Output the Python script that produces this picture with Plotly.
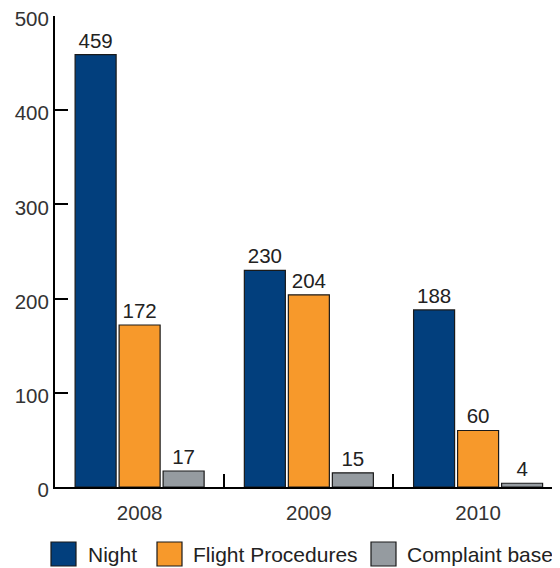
import plotly.graph_objects as go

# ---- data ----
years = ["2008", "2009", "2010"]
night = [459, 230, 188]
flight_procedures = [172, 204, 60]
complaint_based = [17, 15, 4]
series_names = ["Night", "Flight Procedures", "Complaint based"]
y_ticks = [0, 100, 200, 300, 400, 500]

# ---- style ----
colors = ["#023f7d", "#f7992b", "#959ba0"]
outline = "#1a1a1a"
text_color = "#222222"
font_family = "Liberation Sans, Arial, sans-serif"

# page body adds an 8px margin; lay out in screen pixels and compensate
OFF = 8
SCREEN_W, SCREEN_H = 560, 568
W, H = SCREEN_W - OFF, SCREEN_H - OFF
plot_left, plot_right, plot_top, plot_bottom = 55, 560, 16, 487  # screen px
L = plot_left - OFF
R = 0
T = plot_top - OFF
B = H - (plot_bottom - OFF)
plot_w = plot_right - plot_left
plot_h = plot_bottom - plot_top


def px_x(px):
    return (px - plot_left) / plot_w


def px_y(py):
    return (plot_bottom - py) / plot_h


fig = go.Figure()
for name, vals, col in zip(series_names, [night, flight_procedures, complaint_based], colors):
    fig.add_trace(go.Bar(
        x=years, y=vals, name=name,
        marker=dict(color=col, line=dict(color=outline, width=1.2)),
        text=vals, texttemplate="%{y}", textposition="outside",
        textfont=dict(size=20.5, color=text_color, family=font_family),
        constraintext="none", cliponaxis=False, showlegend=False,
    ))

# manual legend (large square swatches)
legend_boxes = [(51, 76), (157, 182), (371, 396)]
legend_text_x = [86, 191, 405]
box_top, box_bot = 542, 566
shapes = []
annotations = []
for (x0, x1), tx, col, name in zip(legend_boxes, legend_text_x, colors, series_names):
    shapes.append(dict(type="rect", xref="paper", yref="paper",
                       x0=px_x(x0), x1=px_x(x1), y0=px_y(box_bot), y1=px_y(box_top),
                       fillcolor=col, line=dict(color=outline, width=1.2)))
    annotations.append(dict(xref="paper", yref="paper", x=px_x(tx), y=px_y((box_top + box_bot) / 2),
                            xanchor="left", yanchor="middle", showarrow=False, text=name,
                            font=dict(size=21, color=text_color, family=font_family)))

fig.update_layout(
    width=W, height=H, autosize=False,
    margin=dict(l=L, r=R, t=T, b=B, pad=0, autoexpand=False),
    paper_bgcolor="white", plot_bgcolor="white",
    barmode="group", bargap=0.22, bargroupgap=0.068,
    font=dict(family=font_family, size=20.5, color="#333333"),
    shapes=shapes, annotations=annotations,
    xaxis=dict(type="category", range=[-0.5, 2.484], showline=True, linecolor="black", linewidth=2,
               ticks="inside", tickson="boundaries", ticklen=13, tickwidth=2, tickcolor="black",
               ticklabelstandoff=6, ticklabeloverflow="allow", automargin=False,
               showgrid=False, zeroline=False, tickfont=dict(size=20.5, color="#333333")),
    yaxis=dict(range=[0, 500], tickvals=y_ticks, showline=True, linecolor="black", linewidth=2,
               ticks="inside", ticklen=13, tickwidth=2, tickcolor="black",
               ticklabeloverflow="allow", ticklabelshift=3, automargin=False,
               showgrid=False, zeroline=False, tickfont=dict(size=20.5, color="#333333")),
)

fig.write_html("out.html")
